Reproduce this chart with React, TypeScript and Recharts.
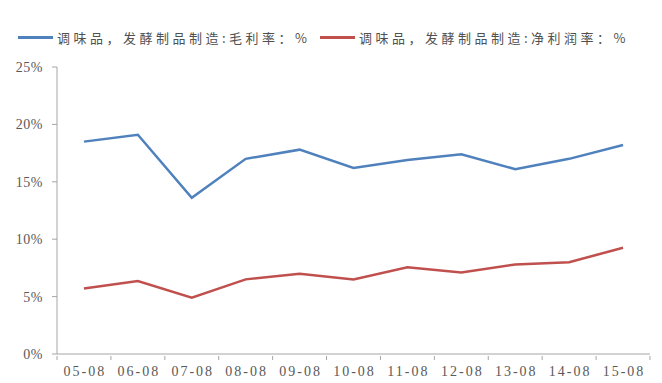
import React from "react";
import { CartesianGrid, Line, LineChart, XAxis, YAxis } from "recharts";

// 调味品、发酵制品制造 — 毛利率 / 净利润率 (%), 2005-08 ~ 2015-08
const months = ["05-08", "06-08", "07-08", "08-08", "09-08", "10-08", "11-08", "12-08", "13-08", "14-08", "15-08"];
const grossMargin = [18.5, 19.1, 13.6, 17.0, 17.8, 16.2, 16.9, 17.4, 16.1, 17.0, 18.2];
const netMargin = [5.7, 6.35, 4.9, 6.5, 7.0, 6.5, 7.55, 7.1, 7.8, 8.0, 9.25];
const yTicks = [0, 5, 10, 15, 20, 25];

const W = 662;
const H = 383;
const PLOT_L = 57;
const PLOT_R = 650;
const HALF = (PLOT_R - PLOT_L) / months.length / 2;
const BLUE = "#4f81bd";
const RED = "#c0504d";
const AXIS = "#a6a6a6";
const TXT = "#595959";
const FONT = "'Liberation Serif', 'Noto Sans CJK SC', serif";

const data = months.map((m, i) => ({ m, gross: grossMargin[i], net: netMargin[i] }));

const XTick = (props: any) => {
  const { x, y, payload, index } = props;
  const last = index === months.length - 1;
  return (
    <g>
      <line x1={x - HALF} x2={x - HALF} y1={y - 6} y2={y - 2} stroke={AXIS} />
      {last && <line x1={x + HALF} x2={x + HALF} y1={y - 6} y2={y - 2} stroke={AXIS} />}
      <text x={x + 1} y={y + 14} textAnchor="middle" fill={TXT} fontSize={14} letterSpacing={2} fontFamily={FONT}>
        {payload.value}
      </text>
    </g>
  );
};

const LegendItem = ({ color, label, left }: { color: string; label: string; left: number }) => (
  <div style={{ position: "absolute", left, top: 28, display: "flex", alignItems: "center", whiteSpace: "nowrap" }}>
    <span style={{ display: "inline-block", width: 35, height: 3, background: color, marginRight: 4 }} />
    <span style={{ fontFamily: "'Noto Sans CJK SC', sans-serif", fontSize: 13, color: "#505050", letterSpacing: 3.5 }}>
      {label}
    </span>
  </div>
);

export default function App() {
  return (
    <div style={{ position: "absolute", left: 0, top: 0, width: W, height: H, background: "#fff" }}>
      <LegendItem color={BLUE} label="调味品，发酵制品制造:毛利率：%" left={18} />
      <LegendItem color={RED} label="调味品，发酵制品制造:净利润率：%" left={320} />
      <LineChart width={W} height={H} data={data} margin={{ top: 67, right: W - PLOT_R, left: PLOT_L - 50, bottom: 0 }}>
        <CartesianGrid vertical={false} horizontal={false} />
        <XAxis
          dataKey="m"
          stroke={AXIS}
          tickLine={false}
          interval={0}
          height={29}
          padding={{ left: HALF, right: HALF }}
          tick={<XTick />}
        />
        <YAxis
          width={50}
          domain={[0, 25]}
          ticks={yTicks}
          stroke={AXIS}
          tickSize={5}
          tickMargin={9}
          tick={{ fill: TXT, fontSize: 14, fontFamily: FONT, letterSpacing: 0.5 }}
          tickFormatter={(v: number) => `${v}%`}
        />
        <Line dataKey="gross" stroke={BLUE} strokeWidth={2.5} dot={false} isAnimationActive={false} />
        <Line dataKey="net" stroke={RED} strokeWidth={2.5} dot={false} isAnimationActive={false} />
      </LineChart>
    </div>
  );
}
